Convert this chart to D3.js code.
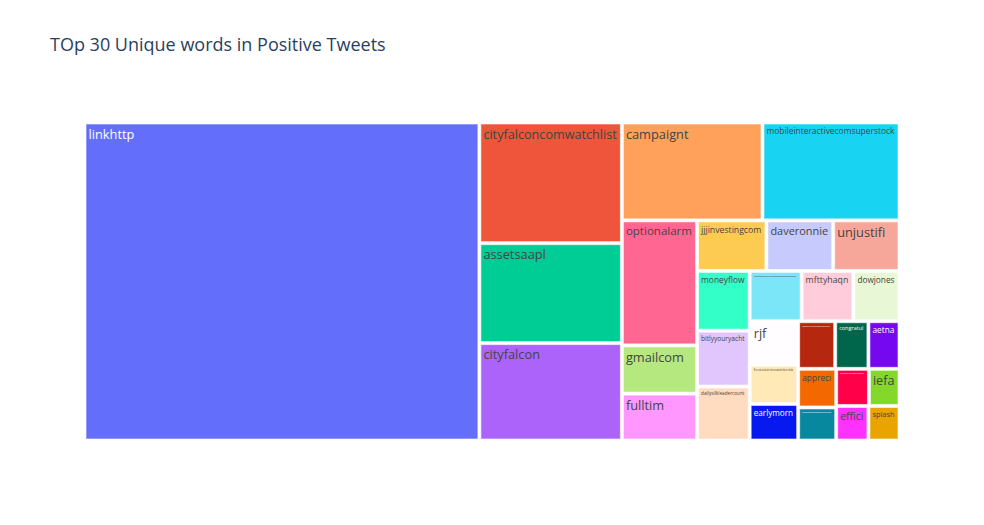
<!DOCTYPE html>
<html>
<head>
<meta charset="utf-8">
<script src="https://cdn.jsdelivr.net/npm/d3@7"></script>
<style>
  body { margin: 0; background: #fff; }
  svg { display: block; }
</style>
</head>
<body>
<svg id="chart" width="984" height="525"></svg>
<script>
// ---------------- data ----------------
const chartTitle = "TOp 30 Unique words in Positive Tweets";

const words = [
  "linkhttp", "cityfalconcomwatchlist", "assetsaapl", "cityfalcon", "campaignt",
  "mobileinteractivecomsuperstock", "optionalarm", "gmailcom", "fulltim", "jjjinvestingcom",
  "daveronnie", "unjustifi", "moneyflow", "bitlyyouryacht", "dailysilkleadercount",
  "httpwwwbenzingacomstocknewsaapl", "mfttyhaqn", "dowjones", "rjf", "freestockalertsnewsletterclub",
  "earlymorn", "marketexclusivecomtradealerts", "congratul", "aetna", "appreci",
  "tradingviewcomchartideas", "wallstreetbetsdailydigest", "iefa", "effici", "splash"
];

const counts = [
  12395, 1697, 1406, 1370, 1358,
  1324, 928, 358, 348, 346,
  333, 331, 310, 290, 280,
  258, 257, 229, 208, 188,
  175, 174, 156, 146, 145,
  124, 120, 112, 110, 106
];

const baseColorway = ["#636efa", "#EF553B", "#00cc96", "#ab63fa", "#FFA15A",
                      "#19d3f3", "#FF6692", "#B6E880", "#FF97FF", "#FECB52"];

// ---------------- layout ----------------
const W = 984, H = 525;
const area = { x: 86, y: 124, w: 812, h: 315 };

const svg = d3.select("#chart");
svg.append("rect").attr("width", W).attr("height", H).attr("fill", "#fff");

svg.append("text")
  .attr("x", 50).attr("y", 51)
  .attr("font-family", "'Open Sans', sans-serif")
  .attr("font-size", 18)
  .attr("fill", "#2a3f5f")
  .text(chartTitle);

// extended treemap colorway: base, 20% lighter, 20% darker
function shiftL(c, d) {
  const h = d3.hsl(c);
  h.l = Math.max(0, Math.min(1, h.l + d));
  return h.formatHex();
}
const colorway = baseColorway
  .concat(baseColorway.map(c => shiftL(c, 0.2)))
  .concat(baseColorway.map(c => shiftL(c, -0.2)));

const data = words.map((w, i) => ({ name: w, value: counts[i], color: colorway[i % colorway.length] }));

const root = d3.hierarchy({ children: data })
  .sum(d => d.value || 0)
  .sort((a, b) => b.value - a.value);

d3.treemap()
  .tile(d3.treemapSquarify.ratio(1))
  .size([area.w, area.h])
  .paddingInner(3)(root);

function isDark(c) {
  const r = d3.rgb(c);
  return (r.r * 299 + r.g * 587 + r.b * 114) / 1000 < 128;
}

const g = svg.append("g").attr("transform", `translate(${area.x},${area.y})`);

const cells = g.selectAll("g.cell")
  .data(root.leaves())
  .join("g")
  .attr("class", "cell");

cells.append("rect")
  .attr("x", d => d.x0)
  .attr("y", d => d.y0)
  .attr("width", d => d.x1 - d.x0)
  .attr("height", d => d.y1 - d.y0)
  .attr("fill", d => d.data.color)
  .attr("stroke", "#fff")
  .attr("stroke-opacity", 0.6)
  .attr("stroke-width", 1);

const baseSize = 12.8;
cells.each(function (d) {
  const cell = d3.select(this);
  const t = cell.append("text")
    .attr("font-family", "'Open Sans', sans-serif")
    .attr("font-size", baseSize)
    .attr("fill", isDark(d.data.color) ? "#fff" : "#444")
    .text(d.data.name);
  const len = t.node().getComputedTextLength();
  const avail = (d.x1 - d.x0) - 6;
  const s = Math.min(1, avail / len);
  const fs = baseSize * s;
  t.attr("font-size", fs)
   .attr("x", d.x0 + 2.5)
   .attr("y", d.y0 + 2 + fs);
});
</script>
</body>
</html>
